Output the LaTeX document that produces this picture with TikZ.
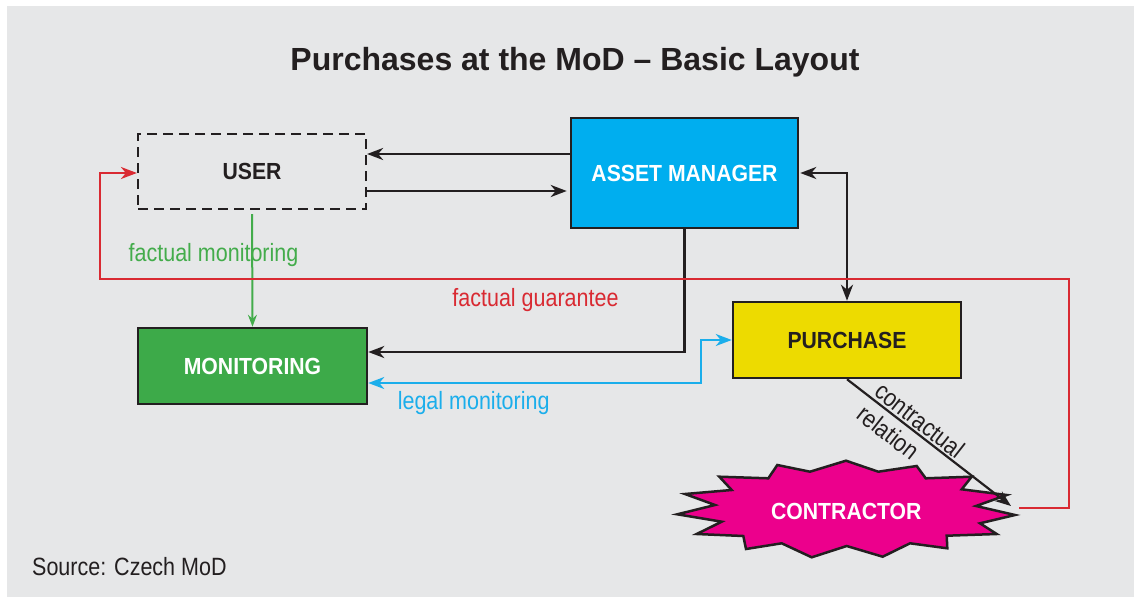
\documentclass[tikz,border=0pt]{standalone}
\usepackage{fontspec}
\setmainfont{Liberation Sans}
\newfontfamily\regfont[FakeStretch=0.86]{Liberation Sans}
\newfontfamily\labfont[FakeStretch=0.91]{Liberation Sans}
\usetikzlibrary{arrows.meta}
\definecolor{bggrey}{HTML}{E6E7E8}
\definecolor{ink}{HTML}{231F20}
\definecolor{amcyan}{HTML}{00AEEF}
\definecolor{mongreen}{HTML}{3DAA49}
\definecolor{puryellow}{HTML}{EDDB00}
\definecolor{conmagenta}{HTML}{EC008C}
\definecolor{fgred}{HTML}{D92A32}
\definecolor{lmblue}{HTML}{1BAEEB}
\definecolor{fmgreen}{HTML}{43AC4B}
\begin{document}
\begin{tikzpicture}[x=1pt,y=-1pt,
  box/.style={draw=ink,line width=2.5pt,minimum width=226pt,minimum height=74pt,inner sep=0pt,
    font=\labfont\bfseries\fontsize{23.3}{28}\selectfont,text depth=0pt},
  lbl/.style={font=\regfont\fontsize{25}{30}\selectfont,anchor=base,inner sep=0pt},
  blacktip/.tip={Stealth[length=16pt,width=12pt,inset=5pt]},
  colortip/.tip={Stealth[length=16pt,width=12pt,inset=5pt]},
  conn/.style={draw=ink,line width=2.6pt,-blacktip},
  redconn/.style={draw=fgred,line width=2.2pt,-colortip},
  blueconn/.style={draw=lmblue,line width=2.2pt,colortip-colortip},
  greenconn/.style={draw=fmgreen,line width=2pt,-{Stealth[length=12pt,width=9pt,inset=4pt]}},
]
\useasboundingbox (0,0) rectangle (1134,599);
\fill[white] (0,0) rectangle (1134,599);
\fill[bggrey] (7,6) rectangle (1134,597);

% title
\node[anchor=base,inner sep=0pt,text=ink,font=\bfseries\fontsize{32}{38}\selectfont] (title) at (575,70.7) {Purchases at the MoD – Basic Layout};

% boxes
\node[box,draw=ink,dash pattern=on 10pt off 6pt,line width=2.2pt,text=ink,minimum width=228pt,minimum height=75pt] (user) at (252,171.5) {USER};
\node[box,fill=amcyan,text=white,minimum width=227pt,minimum height=110pt] (am) at (684.5,173) {ASSET MANAGER};
\node[box,fill=mongreen,text=white,minimum width=229pt,minimum height=76pt] (mon) at (252.5,366) {MONITORING};
\node[box,fill=puryellow,text=ink,minimum width=228pt,minimum height=76pt] (pur) at (847,340) {PURCHASE};

% contractor star
\filldraw[fill=conmagenta,draw=ink,line width=2.5pt,line join=miter]
  (846.0,460.7) -- (878.3,471.7) -- (916.7,466.0) -- (925.7,478.3) -- (971.7,476.7)
  -- (961.7,489.3) -- (1006.7,495.0) -- (976.0,506.0) -- (1015.0,515.0) -- (980.0,523.3)
  -- (996.7,534.0) -- (946.7,535.7) -- (947.3,548.3) -- (910.0,543.3) -- (882.7,556.7)
  -- (846.7,546.0) -- (811.7,557.3) -- (781.7,543.3) -- (746.0,549.0) -- (743.3,536.0)
  -- (696.7,534.0) -- (721.7,521.7) -- (677.3,514.3) -- (715.0,505.0) -- (685.0,494.0)
  -- (731.7,490.0) -- (719.3,476.7) -- (768.3,478.3) -- (777.3,465.0) -- (810.0,471.7) -- cycle;
\node[anchor=base,inner sep=0pt,text=white,font=\labfont\bfseries\fontsize{23.3}{28}\selectfont] (con) at (846.3,519) {CONTRACTOR};
\coordinate (conTip) at (1011,506);
\coordinate (conRight) at (1019,508);

% connectors
\draw[conn] ([yshift=19pt]am.west) -- ([yshift=19pt]am.west -| user.east);
\draw[conn,shorten >=3pt] ([yshift=-19.5pt]user.east) -- ([yshift=-19.5pt]user.east -| am.west);
\draw[conn,blacktip-blacktip,shorten <=1pt] (am.east) -| (pur.north);
\draw[conn] (am.south) |- ([yshift=14pt]mon.east);
\draw[blueconn] ([yshift=-17pt]mon.east) -| ([xshift=-31pt]pur.west) -- (pur.west);
\draw[greenconn,shorten <=4pt] (user.south) -- (mon.north);
\draw[redconn] (conRight) -- ++(50,0) |- (100,279) |- ([yshift=-1.5pt]user.west);
\draw[conn,line width=2.2pt] (pur.south) -- (conTip);

% labels
\node[lbl,text=fmgreen] (lfm) at (213.5,261) {factual monitoring};
\node[lbl,text=fgred] (lfg) at (535.5,306) {factual guarantee};
\node[lbl,text=lmblue] (llm) at (473.7,409.3) {legal monitoring};
\node[font=\regfont\fontsize{25}{29}\selectfont,inner sep=0pt,text=ink,rotate=-38,anchor=center,align=left] (lcr) at (911,431.5) {contractual\\relation};
\node[lbl,text=ink,anchor=base west] (src) at (32,575.7) {Source: Czech MoD};
\end{tikzpicture}
\end{document}
